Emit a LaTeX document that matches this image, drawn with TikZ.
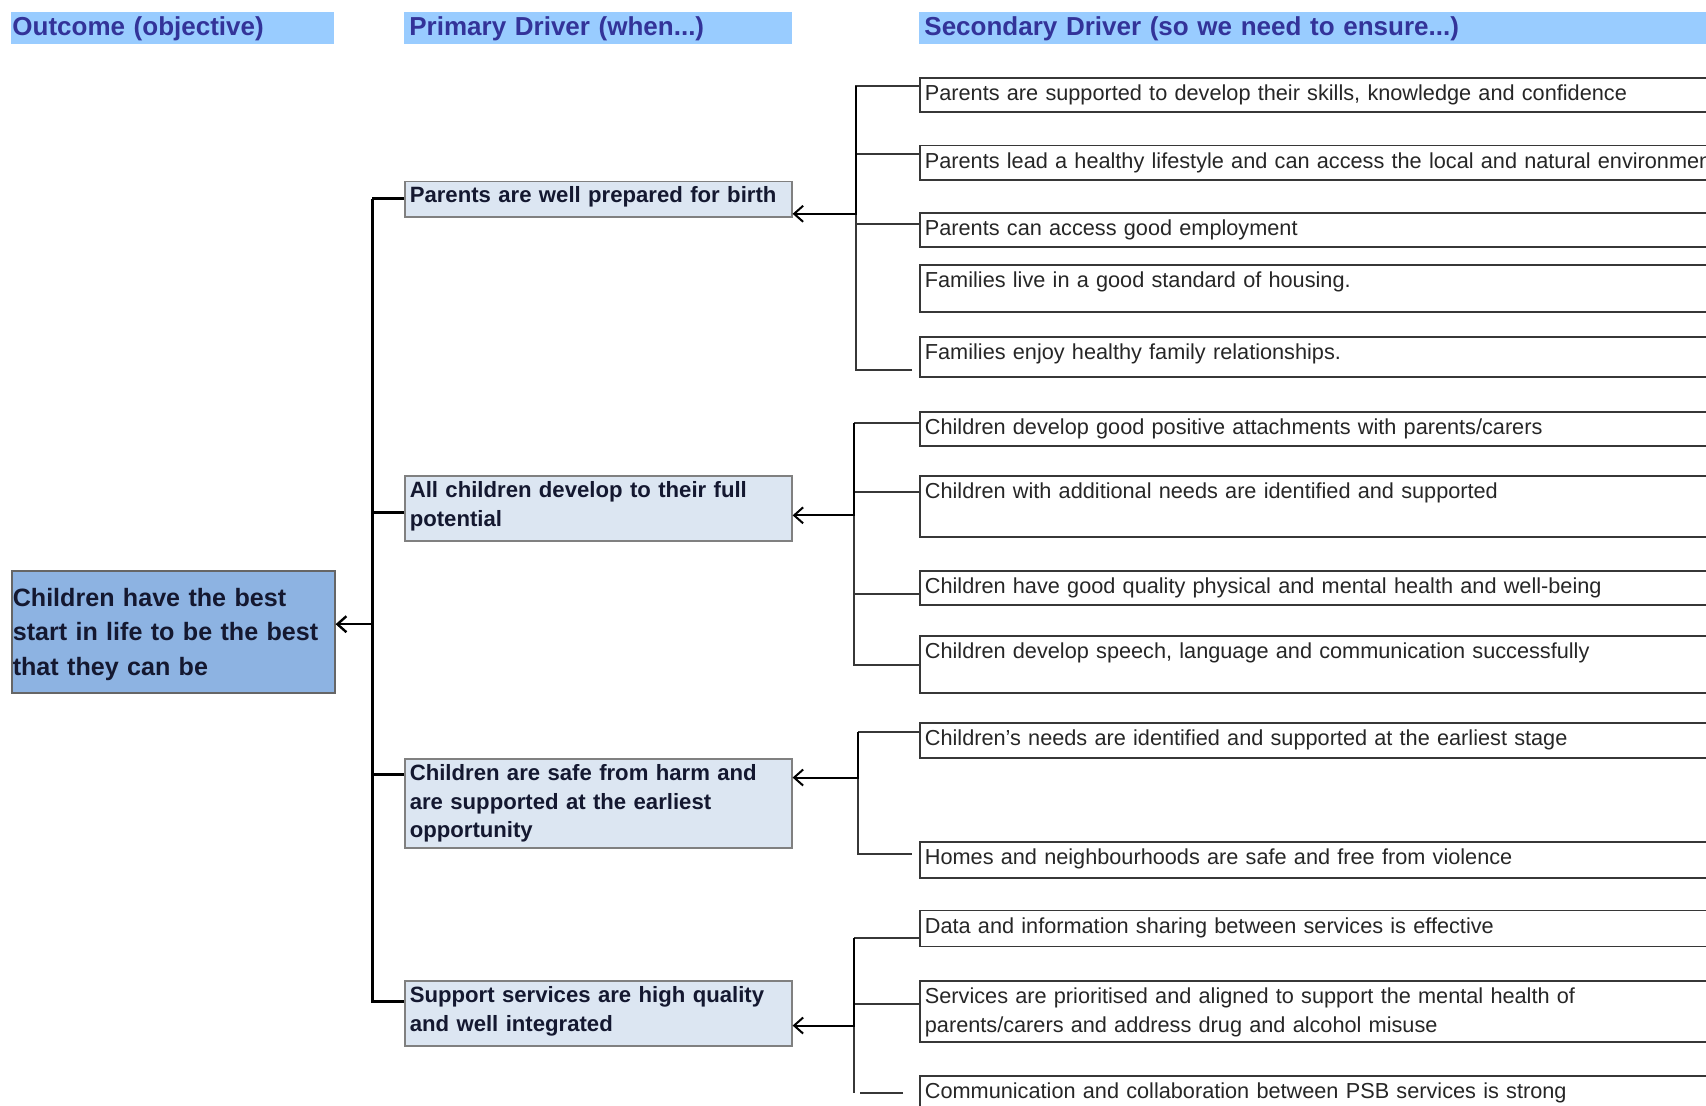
\documentclass[tikz,border=0pt]{standalone}
\usepackage{fontspec}
\setmainfont{Liberation Sans}
\usetikzlibrary{arrows.meta}
\definecolor{headblue}{RGB}{153,204,255}
\definecolor{headtext}{RGB}{51,51,153}
\definecolor{outblue}{RGB}{141,179,226}
\definecolor{drvblue}{RGB}{220,230,242}
\definecolor{linegray}{RGB}{55,55,55}
\definecolor{outtext}{RGB}{20,24,48}

\begin{document}
\begin{tikzpicture}[x=0.5pt, y=-0.5pt,
  head/.style={anchor=north west, fill=headblue, text=headtext, font=\fontsize{13}{15}\selectfont\bfseries, align=left, inner xsep=2.5pt, inner ysep=0pt, text height=11.5pt, text depth=4.25pt},
  outbox/.style={anchor=north west, fill=outblue, draw=gray!80!black, line width=0.8pt, font=\fontsize{12.55}{17.4}\selectfont\bfseries, text=outtext, text width=160.5pt, align=left, inner xsep=0.5pt, inner ysep=0pt, text height=17.6pt, text depth=43.4pt},
  drvbox/.style={anchor=north west, fill=drvblue, draw=gray, line width=0.8pt, font=\fontsize{11.07}{14.15}\selectfont\bfseries, text=outtext, text width=188.5pt, align=left, inner xsep=2.5pt, inner ysep=2pt, text height=8.8pt},
  secbox/.style={anchor=north west, draw=linegray, line width=0.9pt, fill=white, font=\fontsize{10.85}{14.15}\selectfont, text=black!85, text width=420pt, align=left, inner xsep=2.5pt, inner ysep=2pt, text height=9.25pt},
  trunk/.style={line width=1.5pt, black},
  link/.style={line width=1pt, linegray},
  arr/.style={line width=1pt, black, arrows={Straight Barb[length=4.5pt,width=8pt]-}}
]
\fill[white] (0,0) rectangle (1706,1106);
\useasboundingbox (0,0) rectangle (1706,1106);
\clip (0,0) rectangle (1706,1106);

% headings
\node[head, inner xsep=0.5pt, text width=160.5pt] (hout) at (11,12) {Outcome (objective)};
\node[head, text width=188.7pt] (hdrv) at (404,12) {Primary Driver (when...)};
\node[head, text width=420pt] (hsec) at (919,12) {Secondary Driver (so we need to ensure...)};

% outcome
\node[outbox] (out) at (11,570) {Children have the best\\start in life to be the best\\that they can be};

% primary drivers
\node[drvbox, text depth=5.0pt] (p1) at (404,180.6) {Parents are well prepared for birth};
\node[drvbox, text depth=19.65pt] (p2) at (404,475.5) {All children develop to their full\\potential};
\node[drvbox, text depth=31.65pt] (p3) at (404,758.3) {Children are safe from harm and\\are supported at the earliest\\opportunity};
\node[drvbox, text depth=19.65pt] (p4) at (404,980.3) {Support services are high quality\\and well integrated};

% secondary drivers
\node[secbox, text depth=3.65pt] (s11) at (919,77.2) {Parents are supported to develop their skills, knowledge and confidence};
\node[secbox, text depth=4.15pt] (s12) at (919,144.7) {Parents lead a healthy lifestyle and can access the local and natural environment};
\node[secbox, text depth=3.6pt] (s13) at (919,212.2) {Parents can access good employment};
\node[secbox, text depth=10.15pt] (s14) at (919,264.4) {Families live in a good standard of housing.};
\node[secbox, text depth=6.9pt] (s15) at (919,336.2) {Families enjoy healthy family relationships.};
\node[secbox, text depth=3.6pt] (s21) at (919,411.3) {Children develop good positive attachments with parents/carers};
\node[secbox, text depth=17.2pt] (s22) at (919,475.5) {Children with additional needs are identified and supported};
\node[secbox, text depth=3.6pt] (s23) at (919,570.1) {Children have good quality physical and mental health and well-being};
\node[secbox, text depth=15.05pt] (s24) at (919,635.4) {Children develop speech, language and communication successfully};
\node[secbox, text depth=4.2pt] (s31) at (919,722.4) {Children’s needs are identified and supported at the earliest stage};
\node[secbox, text depth=4.75pt] (s32) at (919,841) {Homes and neighbourhoods are safe and free from violence};
\node[secbox, text depth=4.7pt] (s41) at (919,909.6) {Data and information sharing between services is effective};
\node[secbox, text depth=17.2pt] (s42) at (919,980.3) {Services are prioritised and aligned to support the mental health of\\parents/carers and address drug and alcohol misuse};
\node[secbox, text depth=10pt] (s43) at (919,1075) {Communication and collaboration between PSB services is strong};

% bracket tops
\coordinate (tk) at (372,199);
\coordinate (g1) at (856,86);
\coordinate (g2) at (854,423.2);
\coordinate (g3) at (858,732.2);
\coordinate (g4) at (854,937.9);
\coordinate (g4end) at (854,1093);

% trunk to the primary drivers
\foreach \b/\dy in {p1/-9.2, p2/-18.5, p3/-8.2, p4/-10.35}
  \draw[trunk] ([yshift=\dy pt]\b.north west) -| (tk);
\draw[arr, line width=1.2pt] ([yshift=3.8pt]out.east) -| (tk);

% secondary brackets
\foreach \b/\dy in {s11/-4.4, s12/-4.9, s13/-5.95}
  \draw[link] ([yshift=\dy pt]\b.north west) -| (g1);
\draw[link] ([xshift=-3.5pt,yshift=-16.9pt]s15.north west) -| (g1);
\draw[arr] ([yshift=-7.3pt]p1.east) -| (g1);

\foreach \b/\dy in {s21/-5.95, s22/-8.15, s23/-11.95, s24/-14.7}
  \draw[link] ([yshift=\dy pt]\b.north west) -| (g2);
\draw[arr] ([yshift=-3.3pt]p2.east) -| (g2);

\draw[link] ([yshift=-4.9pt]s31.north west) -| (g3);
\draw[link] ([xshift=-3.6pt,yshift=-6.55pt]s32.north west) -| (g3);
\draw[arr] ([yshift=13pt]p3.east) -| (g3);

\foreach \b/\dy in {s41/-14.15, s42/-11.95}
  \draw[link] ([yshift=\dy pt]\b.north west) -| (g4);
\draw[link] (g4) -- (g4end);
\draw[link] ([xshift=-8pt,yshift=-9.2pt]s43.north west) -- ++(-43,0);
\draw[arr] ([yshift=-6pt]p4.east) -| (g4);
\end{tikzpicture}
\end{document}
